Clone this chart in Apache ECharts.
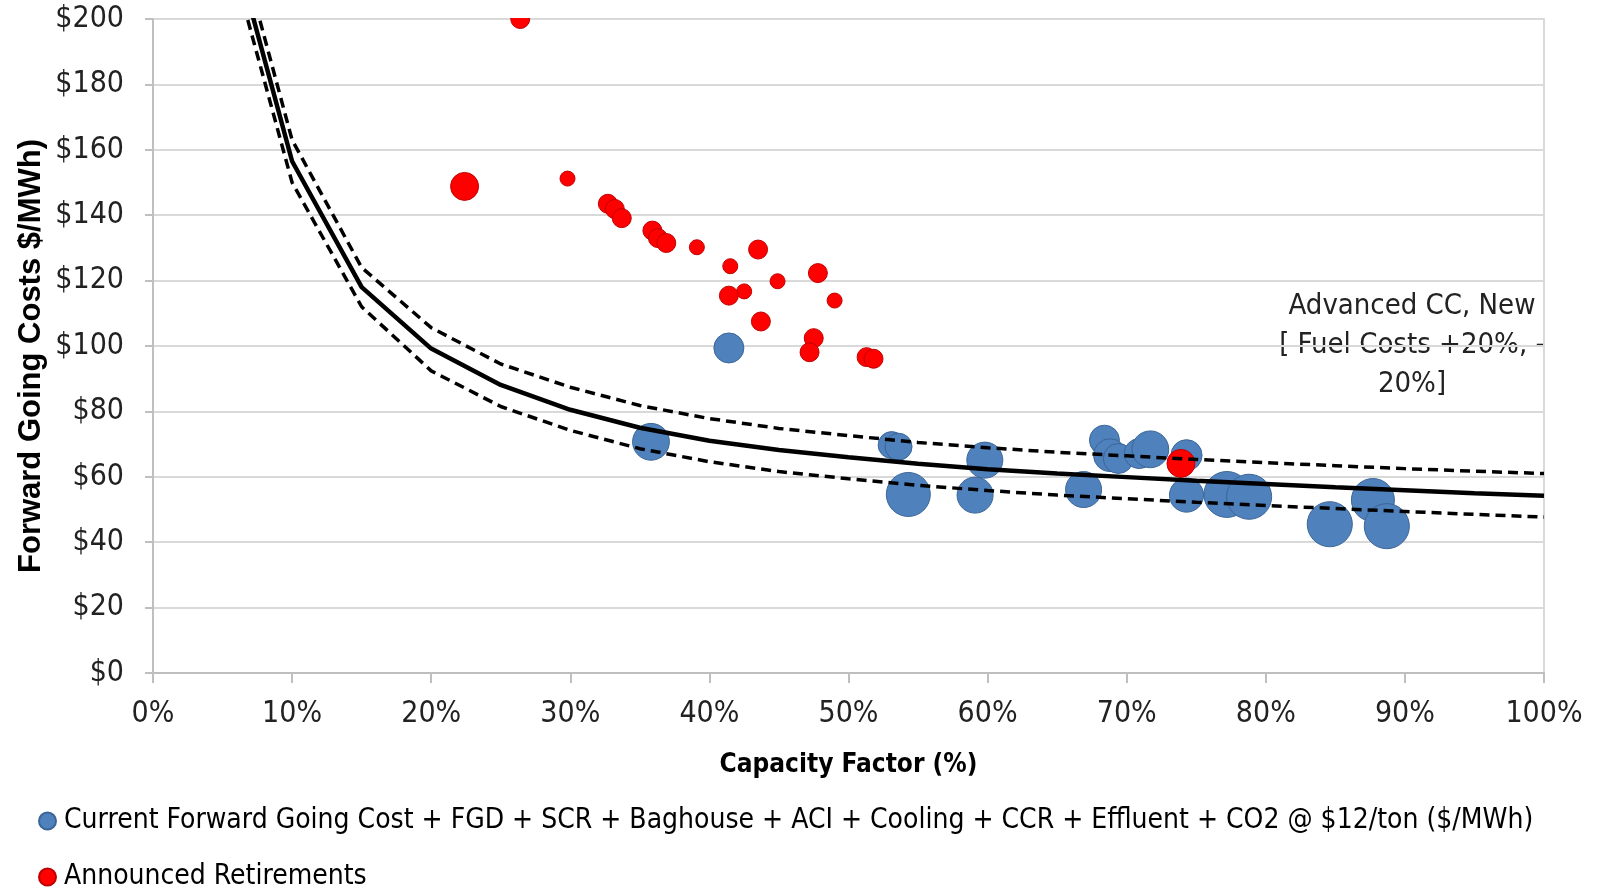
<!DOCTYPE html>
<html>
<head>
<meta charset="utf-8">
<script src="https://cdn.jsdelivr.net/npm/echarts@6/dist/echarts.min.js"></script>
<style>
  html, body { margin: 0; padding: 0; background: #fff; }
  #chart { width: 1599px; height: 889px; }
</style>
</head>
<body>
<div id="chart"></div>
<script>
// plants that would get the full retrofit package
const blueCF   = [35.8, 41.4, 53.1, 53.6, 54.3, 59.8, 59.1, 66.9, 68.4, 68.8, 69.4, 70.9, 71.7, 74.3, 74.3, 77.2, 78.8, 84.6, 87.7, 88.7]
const blueCost = [70.7, 99.4, 69.7, 69.2, 54.6, 65.1, 54.4, 56.1, 71.2, 66.6, 65.6, 67.1, 68.4, 66.6, 54.4, 54.6, 53.9, 45.5, 52.9, 44.9]
const blueSize = [700, 465, 375, 375, 1000, 670, 670, 670, 465, 560, 465, 465, 700, 500, 600, 1090, 1050, 1050, 955, 1050]

// announced retirements
const redCF   = [26.4, 22.4, 29.8, 32.7, 33.2, 33.7, 35.9, 36.3, 36.9, 39.1, 41.5, 43.5, 42.5, 41.4, 44.9, 43.7, 47.8, 49.0, 47.5, 47.2, 51.3, 51.8, 73.9]
const redCost = [200, 148.8, 151.2, 143.5, 141.9, 139.1, 135.3, 133.0, 131.5, 130.2, 124.4, 129.5, 116.7, 115.4, 119.8, 107.5, 122.3, 113.9, 102.4, 98.1, 96.6, 96.1, 64.1]
const redSize = [186, 405, 116, 186, 186, 186, 186, 186, 186, 116, 116, 186, 116, 186, 116, 186, 186, 116, 186, 186, 186, 186, 405]

// Advanced CC, new build: base and fuel +20% / -20%
const curveCF   = [5, 10, 15, 20, 25, 30, 35, 40, 45, 50, 55, 60, 65, 70, 75, 80, 85, 90, 95, 100]
const curveBase = [235, 156.5, 118, 99.2, 88.1, 80.5, 75.0, 71.0, 68.2, 66.0, 64.0, 62.3, 61.0, 59.9, 58.8, 57.8, 56.8, 55.9, 55.0, 54.2]
const curveHigh = [242, 163, 124, 105.6, 94.5, 87.4, 81.8, 77.8, 74.8, 72.6, 70.5, 68.9, 67.5, 66.4, 65.3, 64.3, 63.4, 62.5, 61.7, 61.0]
const curveLow  = [228, 150, 112, 92.4, 81.5, 74.2, 68.6, 64.6, 61.6, 59.4, 57.4, 55.8, 54.4, 53.3, 52.2, 51.2, 50.3, 49.4, 48.5, 47.7]

const legendNames = [
  'Current Forward Going Cost + FGD + SCR + Baghouse + ACI + Cooling + CCR + Effluent + CO2 @ $12/ton ($/MWh)',
  'Announced Retirements'
]

const narrow = "'Liberation Sans Narrow', 'DejaVu Sans Condensed', sans-serif"

function zip(a, b, c) {
  let out = []
  for (let i = 0; i < a.length; i++) {
    out.push(c ? [a[i], b[i], c[i]] : [a[i], b[i]])
  }
  return out
}

// bubble area proportional to size, 1000 -> 44px wide
function bubble(val) {
  return 44 * Math.sqrt(val[2] / 1000)
}

function legendAt(name, top) {
  return {
    data: [name],
    left: 38,
    top: top,
    padding: 0,
    icon: 'circle',
    itemWidth: 17,
    itemHeight: 17,
    textStyle: {
      fontFamily: narrow,
      fontSize: 28,
      color: '#000',
      lineHeight: 28,
      padding: [0, 0, 0, 3]
    }
  }
}

const chart = echarts.init(document.getElementById('chart'))

const option = {
  animation: false,
  grid: {
    left: 153,
    right: 55,
    top: 19,
    bottom: 216
  },
  legend: [
    legendAt(legendNames[0], 807),
    legendAt(legendNames[1], 863)
  ],
  xAxis: {
    type: 'value',
    min: 0,
    max: 100,
    interval: 10,
    name: 'Capacity Factor (%)',
    nameLocation: 'middle',
    nameGap: 79,
    nameTextStyle: {
      fontFamily: narrow,
      fontWeight: 'bold',
      fontSize: 26,
      color: '#000'
    },
    axisLine: { show: true, lineStyle: { color: '#bfbfbf', width: 2 } },
    axisTick: { show: true, length: 10, lineStyle: { color: '#bfbfbf', width: 2 } },
    axisLabel: {
      margin: 26,
      fontFamily: narrow,
      fontSize: 30,
      color: '#222',
      formatter: '{value}%'
    },
    splitLine: { show: false }
  },
  yAxis: [
    {
      type: 'value',
      min: 0,
      max: 200,
      interval: 20,
      axisLine: { show: true, lineStyle: { color: '#bfbfbf', width: 2 } },
      axisTick: { show: true, length: 8, lineStyle: { color: '#bfbfbf', width: 2 } },
      axisLabel: {
        margin: 29,
        fontFamily: narrow,
        fontSize: 30,
        color: '#222',
        formatter: '${value}'
      },
      splitLine: { lineStyle: { color: '#d9d9d9', width: 2 } }
    },
    {
      // right edge of the plot area
      type: 'value',
      min: 0,
      max: 200,
      interval: 20,
      position: 'right',
      axisLine: { show: true, lineStyle: { color: '#d9d9d9', width: 2 } },
      axisTick: { show: false },
      axisLabel: { show: false },
      splitLine: { show: false }
    }
  ],
  graphic: [
    {
      // hide the part of bubbles above $200, like the plot area clip
      type: 'rect',
      z: 50,
      shape: { x: 146, y: 0, width: 1453, height: 18 },
      style: { fill: '#fff' }
    },
    {
      type: 'text',
      x: 31,
      y: 356,
      rotation: Math.PI / 2,
      style: {
        text: 'Forward Going Costs $/MWh)',
        font: "bold 31px 'Liberation Sans', Arial, sans-serif",
        fill: '#000',
        textAlign: 'center',
        textVerticalAlign: 'middle'
      }
    },
    {
      type: 'text',
      x: 1412,
      y: 287,
      style: {
        text: 'Advanced CC, New\n[ Fuel Costs +20%, -\n20%]',
        font: '29px ' + narrow,
        lineHeight: 39,
        fill: '#222',
        textAlign: 'center'
      }
    }
  ],
  series: [
    {
      name: legendNames[0],
      type: 'scatter',
      data: zip(blueCF, blueCost, blueSize),
      symbolSize: bubble,
      itemStyle: { color: '#4f81bd', borderColor: '#3b6596', borderWidth: 1, opacity: 1 },
      z: 2
    },
    {
      name: legendNames[1],
      type: 'scatter',
      data: zip(redCF, redCost, redSize),
      symbolSize: bubble,
      itemStyle: { color: '#ff0000', borderColor: '#c00000', borderWidth: 1, opacity: 1 },
      z: 3
    },
    {
      name: 'Advanced CC, New',
      type: 'line',
      data: zip(curveCF, curveBase),
      showSymbol: false,
      symbol: 'none',
      lineStyle: { color: '#000', width: 4.5 },
      z: 4
    },
    {
      name: 'Fuel Costs +20%',
      type: 'line',
      data: zip(curveCF, curveHigh),
      showSymbol: false,
      symbol: 'none',
      lineStyle: { color: '#000', width: 3.5, type: [10, 6] },
      z: 4
    },
    {
      name: 'Fuel Costs -20%',
      type: 'line',
      data: zip(curveCF, curveLow),
      showSymbol: false,
      symbol: 'none',
      lineStyle: { color: '#000', width: 3.5, type: [10, 6] },
      z: 4
    }
  ]
}

chart.setOption(option)
</script>
</body>
</html>
